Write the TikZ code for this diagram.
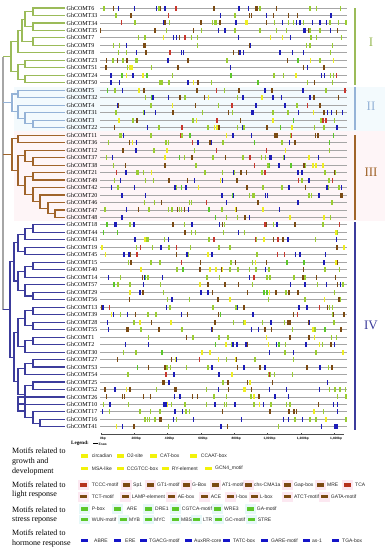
\documentclass[tikz,border=0pt]{standalone}
\usepackage{fontspec}
\setmainfont{Liberation Serif}
\setsansfont{Liberation Sans}
\usetikzlibrary{calc}
\definecolor{cI}{HTML}{9BBB59}
\definecolor{cII}{HTML}{95B3D7}
\definecolor{cIII}{HTML}{A0642A}
\definecolor{cIV}{HTML}{3C3C9C}
\definecolor{cgrey}{HTML}{A6A6A6}
\definecolor{my}{HTML}{EEEE22}
\definecolor{mn}{HTML}{7B4A12}
\definecolor{mr}{HTML}{C8372D}
\definecolor{md}{HTML}{5CC72A}
\definecolor{mg}{HTML}{9ACD32}
\definecolor{mb}{HTML}{1C1CB8}
\definecolor{legY}{HTML}{F2F20A}
\definecolor{legN}{HTML}{7B4A12}
\definecolor{legR}{HTML}{B5301C}
\definecolor{legG}{HTML}{5CC72A}
\definecolor{legB}{HTML}{1414C8}
\definecolor{tintII}{HTML}{F3FAFD}
\definecolor{tintIII}{HTML}{FEF5F7}
\definecolor{pinkbg}{HTML}{FCE8F1}
\definecolor{cyanbg}{HTML}{E6F8F8}
\tikzset{
  branch/.style={line width=1.1pt},
  geneline/.style={draw=cgrey,line width=0.9pt},
  gene/.style={font=\fontsize{6}{6}\selectfont,inner sep=0pt,anchor=west},
  cat/.style={font=\fontsize{8}{9.7}\selectfont,align=left,inner sep=0pt,anchor=west},
  legtxt/.style={font=\sffamily\fontsize{5}{5}\selectfont,inner sep=0pt,anchor=west,text=black!85},
  grp/.style={font=\fontsize{13}{13}\selectfont,inner sep=0pt},
  axl/.style={font=\sffamily\bfseries\fontsize{3.2}{3.2}\selectfont,inner sep=0pt},
}
\newcommand\clade[5]{%
  \path let \p1=(#3), \p2=(#4) in (#2pt,{0.5*(\y1+\y2)}) coordinate (#1);
  \draw[branch,#5] (#3) -| (#1) |- (#4);
}
\newcommand\mrow[2]{%
  \pgfmathsetmacro\yy{8+7.48*#1}%
  \foreach \xx/\cc in {#2}{\fill[m\cc] (\xx-0.75,\yy-2.5) rectangle (\xx+0.75,\yy+2.5);}%
}
\newcounter{lgc}
\newcommand\leg[5]{% swatch x, text x, y, color, text
  \stepcounter{lgc}%
  \fill[#4] (#1,#3-1.7) rectangle (#1+6.7,#3+1.7);
  \node[legtxt] (lg\arabic{lgc}) at (#2,#3) {#5};
}
\newcommand\band[3]{\fill[#3] (#1-2,#2-4.8) rectangle (#1+8.7,#2+4.8);}
\begin{document}
\begin{tikzpicture}[x=1pt,y=-1pt]
\useasboundingbox (0,0) rectangle (385,550);
\fill[white] (0,0) rectangle (385,550);
% faint group tints
\fill[tintII] (14,86.5) rectangle (385,131.2);
\fill[tintIII] (14,131.2) rectangle (385,221);
% legend bands
\foreach \x in {80,123,147,183,212,245,284,317,344}{\band{\x}{485}{pinkbg}}
\foreach \x in {80,122,168,201,227,251,284,321}{\band{\x}{496.7}{pinkbg}}
\foreach \x in {81,114,145,172,214,247}{\band{\x}{509}{cyanbg}}
\foreach \x in {81,120,145,172,193,215,248}{\band{\x}{519.3}{cyanbg}}
% leaves, labels, gene lines
\foreach \n [count=\i from 0] in {6,33,34,35,7,9,8,23,51,24,50,5,32,4,31,3,22,11,36,12,37,38,21,49,42,20,46,47,48,18,44,43,19,45,15,40,14,57,29,56,13,39,28,55,1,2,30,27,53,54,25,52,26,10,17,16,41}{
  \pgfmathsetmacro\yy{8+7.48*\i}
  \coordinate (L\n) at (65,\yy);
  \node[gene] (N\n) at (66.5,\yy) {GhCOMT\n};
  \draw[geneline] (100,\yy) coordinate (S\n) -- (347,\yy) coordinate (E\n);
}
% motifs, transcribed rows
\mrow{0}{104/g,113.3/n,118.3/b,134.3/b,156.7/b,159/g,160.7/n,165/b,176/r,214/n,239/b,248.3/b,256/n,257.7/n,260/g,276.7/n,310/g,316.7/g,340.7/g}
\mrow{1}{116/g,131/n,168.3/r,220.7/b,235/g,249.3/n,251.7/n,266.7/b,273.3/n,288.3/n,297.7/n,331/b}
\mrow{2}{121.7/r,135/g,163.3/b,165/n,169.3/g,201/n,212.7/g,215/g,216.7/g,220/n,236/b,246/y,247.3/y,266.7/n,274.3/g,282.3/b,288.3/g,293.3/g,296.7/b,300/b,303.3/g,312.7/b,320/b,326.7/b,330/g,338.3/g,346/g}
\mrow{3}{100.5/n,155/n,166.7/g,193.3/n,201.7/g,218.3/b,225/b,235/g,260/g,276.7/g,286.7/g,303.3/b,305/b,308.3/n,310/g,320/g,330.7/b,337.3/n}
\mrow{4}{138.3/g,145/g,163.3/y,173.3/b,176.7/b,179.3/n,185/r,191.7/g,197.3/g,238.3/b,270.7/y,282.3/y,290.7/b,311/g,316.7/g,341.7/g}
\mrow{5}{113.3/g,119.3/g,126.7/b,143.3/n,145/n,197.7/g,249.3/n,250.7/b,306.7/g,310/g,332.3/g}
\mrow{6}{118.3/g,126.7/g,136.7/b,146/n,170/r,181.7/b,183.3/b,233.3/n,238.3/n,240/b,243.3/b,280/b,292.3/b,303.3/b,330.7/g}
\mrow{51}{105/n,115/b,126.7/y,130/n,156.7/g,174.3/n,175.8/n,206.7/g,218.3/b,228.3/n,243.3/y,245/y,251.7/n,269.3/b,286.7/b,319.3/b,329.3/g,335/g,340/g,345.7/g}
\mrow{52}{106.7/n,122.7/n,124.5/n,143.3/n,150.7/n,174.3/b,180/b,192.7/n,197.7/n,214/g,226.7/g,251/g,254/y,259/n,275/b,288.3/b,337.7/g,346/g}
\mrow{53}{103.3/g,110/b,128.3/g,164/b,166/b,167.7/y,171.7/g,185/g,206.7/g,215/b,224.3/g,226.7/g,235/b,254/g,259.3/y,263.3/b,271/g,286.7/g,290/g,318.3/n,333.3/b,337.3/b}
\mrow{54}{102.3/b,109.3/g,140/g,150.7/g,160/g,175/b,182.7/b,186/g,189.3/g,222.3/n,270/n,289/n,294/n,296.7/n,314/y,323.3/g,337.7/b}
\mrow{55}{145/g,147.3/g,149.3/g,155/g,160/n,161.7/n,173.3/b,176.7/g,193.3/b,241.7/b,283.3/b,288.3/b,295/g,302.3/b,310/g,316/g,326/y,346/g}
\mrow{56}{116.7/y,122.3/b,134/n,168.3/g,221/b,227.7/n,278.3/g,321.7/b,335/b,336.9/b}
% motifs, other rows (approximate)
\pgfmathsetseed{17}
\foreach \i in {7,...,50}{
  \pgfmathsetmacro\yy{8+7.48*\i}
  \pgfmathrandominteger\nn{10}{19}
  \foreach \k in {1,...,\nn}{
    \pgfmathsetmacro\xx{102+243*rnd}
    \pgfmathrandominteger\cc{1}{20}
    \ifnum\cc<8 \def\col{mg}\else\ifnum\cc<13 \def\col{mb}\else\ifnum\cc<17 \def\col{mn}\else\ifnum\cc<19 \def\col{my}\else\ifnum\cc<20 \def\col{mr}\else\def\col{md}\fi\fi\fi\fi\fi
    \fill[\col] (\xx-0.75,\yy-2.5) rectangle (\xx+0.75,\yy+2.5);
  }
}
% group I
\clade{a1}{33}{L6}{L33}{cI}
\clade{a2}{33}{L34}{L35}{cI}
\clade{a3}{25}{a1}{a2}{cI}
\clade{a4}{33}{L7}{L9}{cI}
\clade{a5}{22}{a3}{a4}{cI}
\clade{a6}{18}{a5}{L8}{cI}
\clade{b1}{25}{L23}{L51}{cI}
\clade{b2}{25}{L24}{L50}{cI}
\clade{b3}{18}{b1}{b2}{cI}
\clade{gI}{11}{a6}{b3}{cI}
% group II
\clade{c1}{33}{L3}{L22}{cII}
\clade{c2}{25}{L31}{c1}{cII}
\clade{c3}{18}{L4}{c2}{cII}
\clade{c4}{18}{L5}{L32}{cII}
\clade{gII}{12}{c4}{c3}{cII}
% group III
\clade{f1}{18}{L11}{L36}{cIII}
\clade{f2}{33}{L37}{L38}{cIII}
\clade{f3}{25}{L12}{f2}{cIII}
\clade{f4}{33}{L21}{L49}{cIII}
\clade{f5}{55}{L47}{L48}{cIII}
\clade{f6}{48}{L46}{f5}{cIII}
\clade{f7}{40}{L20}{f6}{cIII}
\clade{f8}{33}{L42}{f7}{cIII}
\clade{f9}{25}{f4}{f8}{cIII}
\clade{f10}{18}{f3}{f9}{cIII}
\clade{gIII}{12}{f1}{f10}{cIII}
% group IV
\clade{d1}{33}{L18}{L44}{cIV}
\clade{d2}{25}{d1}{L43}{cIV}
\clade{d3}{25}{L19}{L45}{cIV}
\clade{d4}{18}{d2}{d3}{cIV}
\clade{d5}{33}{L15}{L40}{cIV}
\clade{d6}{25}{d5}{L14}{cIV}
\clade{d7}{33}{L29}{L56}{cIV}
\clade{d8}{25}{L57}{d7}{cIV}
\clade{d9}{18}{d6}{d8}{cIV}
\clade{d10}{14}{d4}{d9}{cIV}
\clade{e1}{33}{L13}{L39}{cIV}
\clade{e2}{33}{L28}{L55}{cIV}
\clade{e3}{25}{e1}{e2}{cIV}
\clade{e4}{33}{L1}{L2}{cIV}
\clade{e5}{25}{e4}{L30}{cIV}
\clade{e6}{18}{e3}{e5}{cIV}
\clade{e7}{33}{L27}{L53}{cIV}
\clade{e8}{25}{e7}{L54}{cIV}
\clade{e9}{33}{L25}{L52}{cIV}
\clade{e10}{40}{L16}{L41}{cIV}
\clade{e11}{33}{L17}{e10}{cIV}
\clade{e12}{25}{L10}{e11}{cIV}
\clade{e13}{18}{L26}{e12}{cIV}
\clade{e14}{25}{e9}{e13}{cIV}
\clade{e15}{18}{e8}{e14}{cIV}
\clade{e16}{14}{e6}{e15}{cIV}
\clade{gIV}{10}{d10}{e16}{cIV}
% root
\draw[branch,cgrey] (3,0 |- gI) coordinate (r1) -- (3,0 |- gIV) coordinate (r2);
\draw[branch,cI] (gI) -- (r1 |- gI);
\draw[branch,cII] (gII) -- (r1 |- gII);
\draw[branch,cIII] (gIII) -- (r1 |- gIII);
\draw[branch,cIV] (gIV) -- (r1 |- gIV);
% group bars
\draw[line width=2pt,cI] (355,8) coordinate (bIt) -- (355,85) coordinate (bIb);
\draw[line width=2pt,cII] (355,87) coordinate (bIIt) -- (355,130) coordinate (bIIb);
\draw[line width=2pt,cIII] (355,135) coordinate (bIIIt) -- (355,220) coordinate (bIIIb);
\draw[line width=2pt,cIV] (355,222) coordinate (bIVt) -- (355,430) coordinate (bIVb);
\node[grp,text=cI] (tI) at (371,42) {I};
\node[grp,text=cII] (tII) at (371,106) {II};
\node[grp,text=cIII] (tIII) at (371,172) {III};
\node[grp,text=cIV] (tIV) at (371,325) {IV};
% axis
\draw[line width=0.5pt,black!70] (101,434.5) coordinate (ax0) -- (344,434.5) coordinate (ax1);
\foreach \t [count=\k from 0] in {0bp,200bp,400bp,600bp,800bp,{1,000bp},{1,200bp},{1,400bp}}{
  \draw[line width=0.4pt,black!70] (101+33.3*\k,434.5) -- (101+33.3*\k,433);
  \node[axl] (ax\k) at (103+33.3*\k,438.3) {\t};
}
% legend header
\node[font=\bfseries\fontsize{5}{5}\selectfont,inner sep=0pt,anchor=west] (legend) at (71,443.7) {Legend:};
\draw[line width=0.6pt] (93,443.7) coordinate (ex0) -- (97.5,443.7) coordinate (ex1);
\node[font=\bfseries\fontsize{3.6}{3.6}\selectfont,inner sep=0pt,anchor=west] (exon) at (98.5,444) {Exon};
% category labels
\node[cat] (k1) at (12,461.7) {Motifs related to\\growth and\\development};
\node[cat] (k2) at (12,490) {Motifs related to\\light response};
\node[cat] (k3) at (12,515) {Motifs related to\\stress reponse};
\node[cat] (k4) at (12,538.5) {Motifs related to\\hormone response};
% growth
\leg{81}{91.7}{456}{legY}{circadian}
\leg{117}{126.7}{456}{legY}{O2-site}
\leg{150}{160}{456}{legY}{CAT-box}
\leg{190}{200.7}{456}{legY}{CCAAT-box}
\leg{81}{91.7}{468.3}{legY}{MSA-like}
\leg{117}{126.7}{468.3}{legY}{CCGTCC-box}
\leg{162}{171.7}{468.3}{legY}{RY-element}
\leg{205}{215}{468.3}{legY}{GCN4\_motif}
% light
\leg{80}{91.7}{485}{legR}{TCCC-motif}
\leg{123}{133}{485}{legN}{Sp1}
\leg{147}{157}{485}{legN}{GT1-motif}
\leg{183}{192}{485}{legN}{G-Box}
\leg{212}{222}{485}{legN}{AT1-motif}
\leg{245}{254}{485}{legN}{chs-CMA1a}
\leg{284}{294}{485}{legN}{Gap-box}
\leg{317}{327}{485}{legN}{MRE}
\leg{344}{355}{485}{legR}{TCA}
\leg{80}{91.7}{496.7}{legN}{TCT-motif}
\leg{122}{131.7}{496.7}{legN}{LAMP-element}
\leg{168}{177.7}{496.7}{legN}{AE-box}
\leg{201}{210.7}{496.7}{legN}{ACE}
\leg{227}{236}{496.7}{legN}{I-box}
\leg{251}{260}{496.7}{legN}{L-box}
\leg{284}{294}{496.7}{legN}{ATCT-motif}
\leg{321}{330.7}{496.7}{legN}{GATA-motif}
% stress
\leg{81}{91.7}{509}{legG}{P-box}
\leg{114}{126.7}{509}{legG}{ARE}
\leg{145}{155}{509}{legG}{DRE1}
\leg{172}{181.7}{509}{legG}{CGTCA-motif}
\leg{214}{224}{509}{legG}{WRE3}
\leg{247}{256.7}{509}{legG}{GA-motif}
\leg{81}{91.7}{519.3}{legG}{WUN-motif}
\leg{120}{129}{519.3}{legG}{MYB}
\leg{145}{154}{519.3}{legG}{MYC}
\leg{172}{181}{519.3}{legG}{MBS}
\leg{193}{203}{519.3}{legG}{LTR}
\leg{215}{225}{519.3}{legG}{GC-motif}
\leg{248}{257.7}{519.3}{legG}{STRE}
% hormone
\leg{81}{94}{540.7}{legB}{ABRE}
\leg{114}{125}{540.7}{legB}{ERE}
\leg{140}{149}{540.7}{legB}{TGACG-motif}
\leg{185}{194}{540.7}{legB}{AuxRR-core}
\leg{223}{233}{540.7}{legB}{TATC-box}
\leg{261}{271}{540.7}{legB}{GARE-motif}
\leg{303}{312}{540.7}{legB}{as-1}
\leg{332}{342}{540.7}{legB}{TGA-box}
\end{tikzpicture}
\end{document}
